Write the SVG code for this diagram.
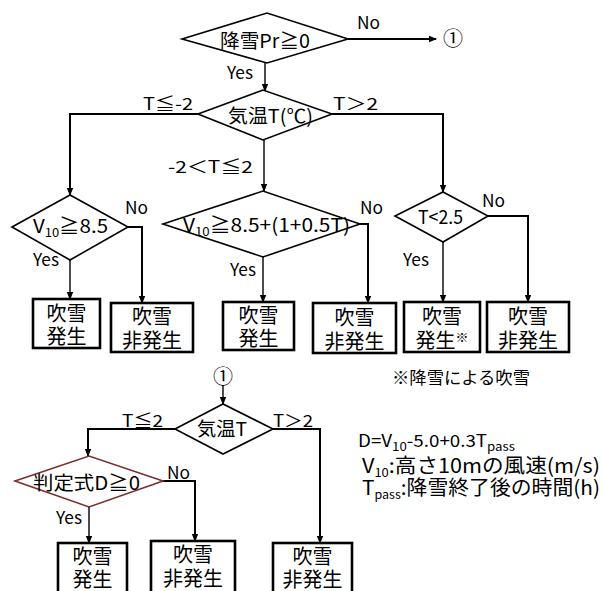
<svg xmlns="http://www.w3.org/2000/svg" width="604" height="591" viewBox="0 0 604 591">
<style>
text{font-family:"Noto Sans CJK JP","Liberation Sans",sans-serif;fill:#000}
.d{fill:#fff;stroke:#000;stroke-width:1.6}
.dr{fill:#fff;stroke:#7a2e2e;stroke-width:1.6}
.b{fill:#fff;stroke:#000;stroke-width:2.6}
.c{fill:none;stroke:#000;stroke-width:2}
.t{fill:none;stroke:#000;stroke-width:1.4}
.m{font-size:19px;text-anchor:middle}
.l{font-size:17px}
.bx{font-size:20px;text-anchor:middle}
.s{font-size:12px}
</style>
<defs>
<marker id="a" markerUnits="userSpaceOnUse" markerWidth="8" markerHeight="8" viewBox="0 0 8 8" refX="7" refY="4" orient="auto">
<path d="M0,0.8 L8,4 L0,7.2 Z" fill="#000"/>
</marker>
</defs>
<g id="connectors">
<path class="c" d="M348,39 H436" marker-end="url(#a)"/>
<path class="t" d="M265,63 V91" marker-end="url(#a)"/>
<path class="c" d="M198,114 H70 V195" marker-end="url(#a)"/>
<path class="t" d="M264,140 V191" marker-end="url(#a)"/>
<path class="c" d="M332,114 H443 V192" marker-end="url(#a)"/>
<path class="t" d="M70,260 V299" marker-end="url(#a)"/>
<path class="c" d="M128,227 H142 V303" marker-end="url(#a)"/>
<path class="t" d="M263,257 V302" marker-end="url(#a)"/>
<path class="c" d="M360,224 H368 V303" marker-end="url(#a)"/>
<path class="t" d="M443,242 V302" marker-end="url(#a)"/>
<path class="c" d="M488,216 H528 V302" marker-end="url(#a)"/>
<path class="t" d="M223,385 V404" marker-end="url(#a)"/>
<path class="c" d="M175,429 H88 V456" marker-end="url(#a)"/>
<path class="c" d="M273,429 H320 V543" marker-end="url(#a)"/>
<path class="c" d="M163,481 H195 V541" marker-end="url(#a)"/>
<path class="t" d="M89,507 V543" marker-end="url(#a)"/>
</g>
<g id="edge-labels">
<text class="l" x="357" y="29" textLength="23" lengthAdjust="spacingAndGlyphs">No</text>
<text x="453" y="46" font-size="20" text-anchor="middle">①</text>
<text class="l" x="227" y="79" textLength="26" lengthAdjust="spacingAndGlyphs">Yes</text>
<text class="l" x="143" y="110" textLength="50" lengthAdjust="spacingAndGlyphs">T≦-2</text>
<text class="l" x="333" y="110" textLength="45" lengthAdjust="spacingAndGlyphs">T＞2</text>
<text class="l" x="168" y="173" textLength="85" lengthAdjust="spacingAndGlyphs">-2＜T≦2</text>
<text class="l" x="125" y="214" textLength="23" lengthAdjust="spacingAndGlyphs">No</text>
<text class="l" x="33" y="266" textLength="26" lengthAdjust="spacingAndGlyphs">Yes</text>
<text class="l" x="360" y="214" textLength="23" lengthAdjust="spacingAndGlyphs">No</text>
<text class="l" x="230" y="276" textLength="26" lengthAdjust="spacingAndGlyphs">Yes</text>
<text class="l" x="482" y="207" textLength="23" lengthAdjust="spacingAndGlyphs">No</text>
<text class="l" x="403" y="266" textLength="26" lengthAdjust="spacingAndGlyphs">Yes</text>
<text x="223" y="384" font-size="20" text-anchor="middle">①</text>
<text class="l" x="122" y="427" textLength="41" lengthAdjust="spacingAndGlyphs">T≦2</text>
<text class="l" x="273" y="427" textLength="40" lengthAdjust="spacingAndGlyphs">T＞2</text>
<text class="l" x="167" y="479" textLength="23" lengthAdjust="spacingAndGlyphs">No</text>
<text class="l" x="56" y="524" textLength="26" lengthAdjust="spacingAndGlyphs">Yes</text>
</g>
<g id="d-snow">
<polygon class="d" points="182,39 267,13 348,39 267,63"/>
<text class="m" x="265" y="48" textLength="90" lengthAdjust="spacingAndGlyphs">降雪Pr≧0</text>
</g>
<g id="d-temp">
<polygon class="d" points="198,114 263,90 332,114 263,140"/>
<text class="m" x="270.5" y="123" textLength="85" lengthAdjust="spacingAndGlyphs">気温T(℃)</text>
</g>
<g id="d-v85">
<polygon class="d" points="12,227 70,195 128,227 70,260"/>
<text class="m" x="70.5" y="233" textLength="75" lengthAdjust="spacingAndGlyphs">V<tspan class="s" dy="4">10</tspan><tspan dy="-4">≧8.5</tspan></text>
</g>
<g id="d-vmid">
<polygon class="d" points="163,224 263,191 360,224 263,257"/>
<text class="m" x="266.5" y="232" textLength="167" lengthAdjust="spacingAndGlyphs">V<tspan class="s" dy="4">10</tspan><tspan dy="-4">≧8.5+(1+0.5T)</tspan></text>
</g>
<g id="d-t25">
<polygon class="d" points="395,216 443,192 488,216 443,242"/>
<text class="m" x="440.5" y="224" textLength="45" lengthAdjust="spacingAndGlyphs">T&lt;2.5</text>
</g>
<g id="box1">
<rect class="b" x="33" y="299" width="67" height="49"/>
<text class="bx" x="66.5" y="321">吹雪</text>
<text class="bx" x="66.5" y="344">発生</text>
</g>
<g id="box2">
<rect class="b" x="111" y="303" width="82" height="49"/>
<text class="bx" x="152" y="324">吹雪</text>
<text class="bx" x="152" y="348">非発生</text>
</g>
<g id="box3">
<rect class="b" x="223" y="302" width="71" height="48"/>
<text class="bx" x="258.5" y="323">吹雪</text>
<text class="bx" x="258.5" y="346">発生</text>
</g>
<g id="box4">
<rect class="b" x="313" y="303" width="83" height="50"/>
<text class="bx" x="354.5" y="325">吹雪</text>
<text class="bx" x="354.5" y="349">非発生</text>
</g>
<g id="box5">
<rect class="b" x="404" y="302" width="76" height="50"/>
<text class="bx" x="442" y="324">吹雪</text>
<text class="bx" x="442" y="348">発生<tspan font-size="13" dy="-6">※</tspan></text>
</g>
<g id="box6">
<rect class="b" x="487" y="302" width="82" height="50"/>
<text class="bx" x="528" y="324">吹雪</text>
<text class="bx" x="528" y="348">非発生</text>
</g>
<text x="392" y="384" font-size="17" textLength="138" lengthAdjust="spacingAndGlyphs">※降雪による吹雪</text>
<g id="d-temp2">
<polygon class="d" points="175,429 223,404 273,429 223,454"/>
<text class="m" x="222" y="436" textLength="50" lengthAdjust="spacingAndGlyphs">気温T</text>
</g>
<g id="d-judge">
<polygon class="dr" points="15,481 89,456 163,481 89,507"/>
<text class="m" x="86.5" y="490" textLength="107" lengthAdjust="spacingAndGlyphs">判定式D≧0</text>
</g>
<g id="box7">
<rect class="b" x="58" y="543" width="69" height="52"/>
<text class="bx" x="92.5" y="564">吹雪</text>
<text class="bx" x="92.5" y="587">発生</text>
</g>
<g id="box8">
<rect class="b" x="151" y="541" width="84" height="54"/>
<text class="bx" x="193" y="562">吹雪</text>
<text class="bx" x="193" y="586">非発生</text>
</g>
<g id="box9">
<rect class="b" x="273" y="543" width="79" height="52"/>
<text class="bx" x="312.5" y="564">吹雪</text>
<text class="bx" x="312.5" y="587">非発生</text>
</g>
<g id="formula">
<text x="358" y="447" font-size="17" textLength="157" lengthAdjust="spacingAndGlyphs">D=V<tspan class="s" dy="4">10</tspan><tspan dy="-4">-5.0+0.3T</tspan><tspan class="s" dy="4">pass</tspan></text>
<text x="362" y="473" font-size="20" textLength="238" lengthAdjust="spacingAndGlyphs">V<tspan class="s" dy="4">10</tspan><tspan dy="-4">:高さ10mの風速(m/s)</tspan></text>
<text x="362" y="495" font-size="20" textLength="238" lengthAdjust="spacingAndGlyphs">T<tspan class="s" dy="4">pass</tspan><tspan dy="-4">:降雪終了後の時間(h)</tspan></text>
</g>
</svg>
